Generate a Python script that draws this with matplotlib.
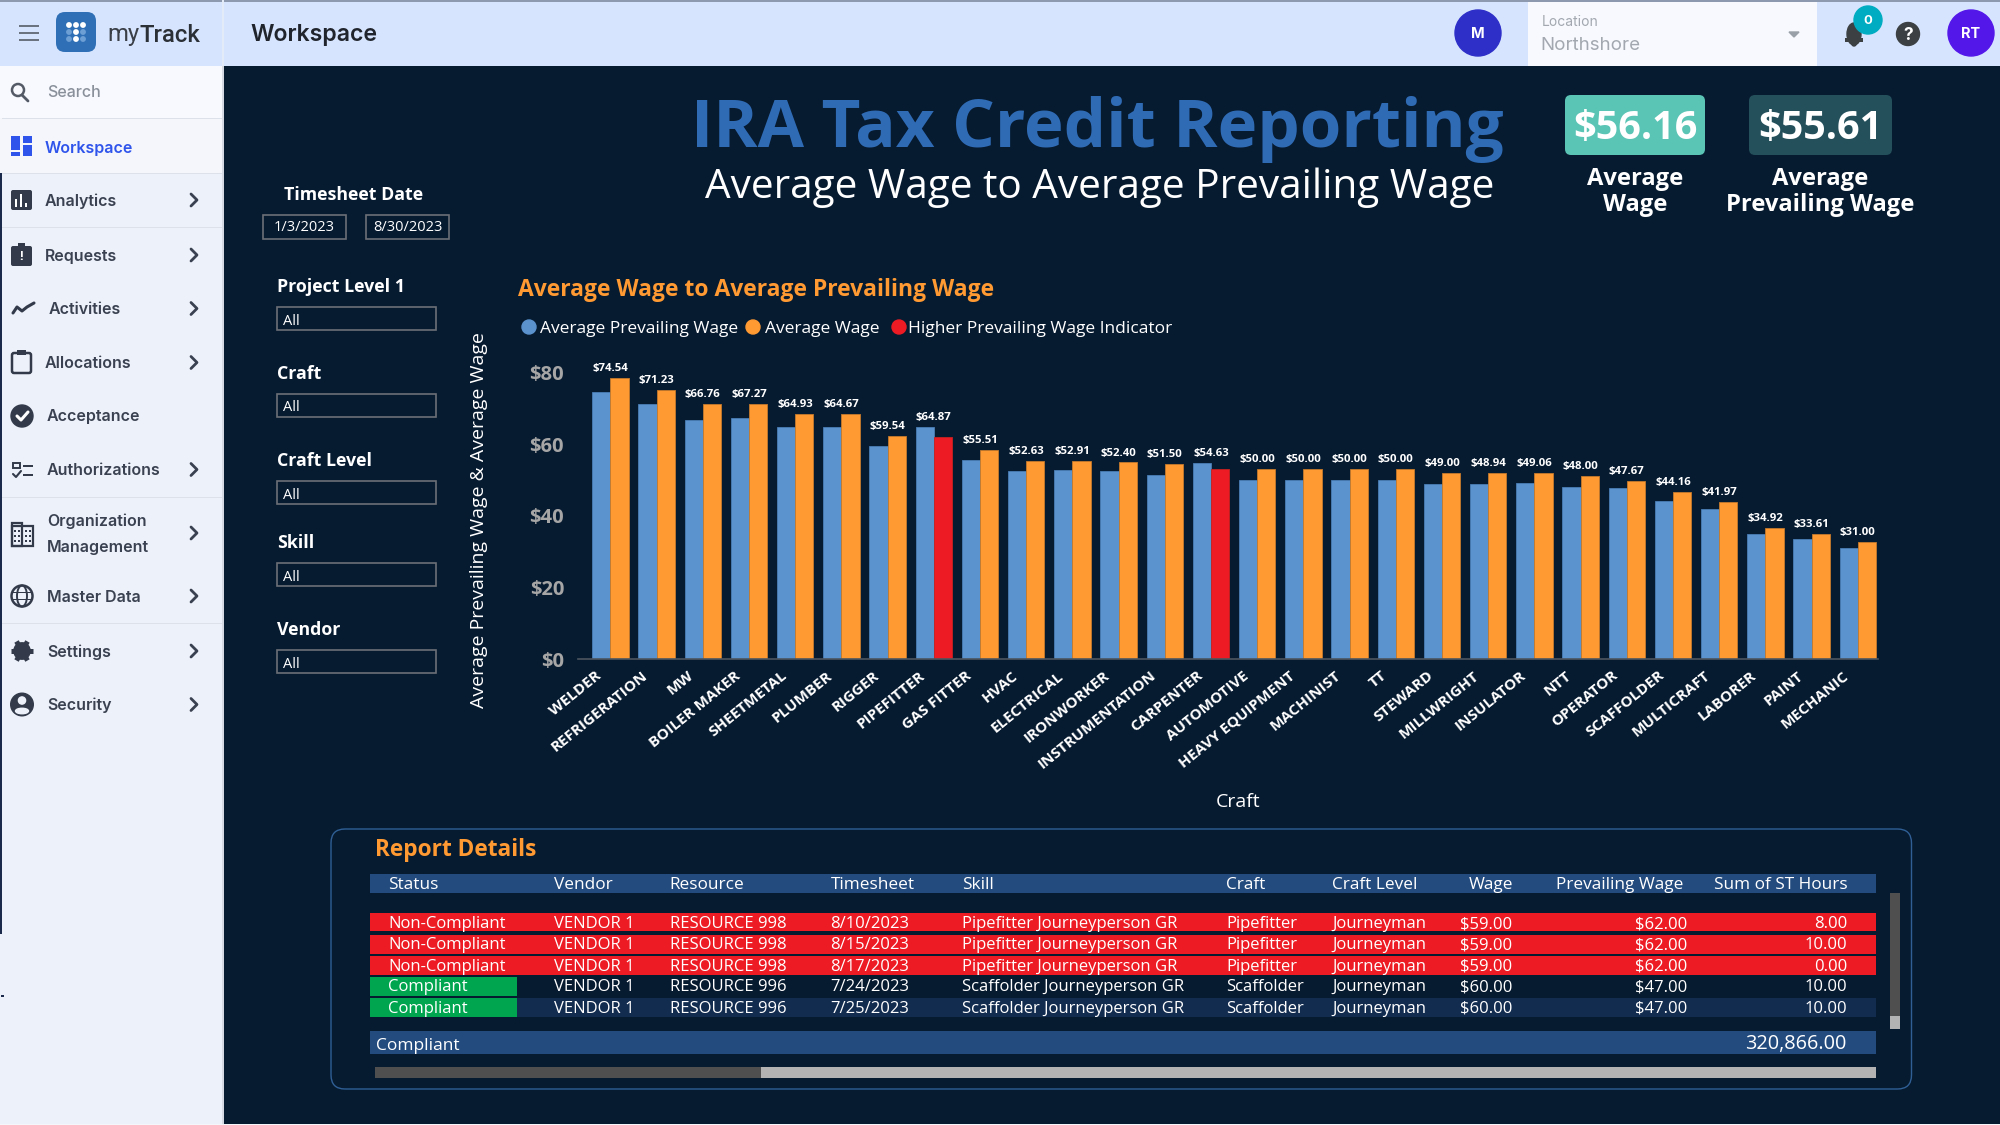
import math
import matplotlib
matplotlib.use("Agg")
import matplotlib.pyplot as plt
import matplotlib.transforms as mtrans
from matplotlib.patches import Rectangle, FancyBboxPatch, Circle, Ellipse, Polygon
from matplotlib.ticker import FuncFormatter

# ---------- data ----------
crafts = ["WELDER", "REFRIGERATION", "MW", "BOILER MAKER", "SHEETMETAL", "PLUMBER", "RIGGER",
          "PIPEFITTER", "GAS FITTER", "HVAC", "ELECTRICAL", "IRONWORKER", "INSTRUMENTATION",
          "CARPENTER", "AUTOMOTIVE", "HEAVY EQUIPMENT", "MACHINIST", "TT", "STEWARD", "MILLWRIGHT",
          "INSULATOR", "NTT", "OPERATOR", "SCAFFOLDER", "MULTICRAFT", "LABORER", "PAINT", "MECHANIC"]
avg_prevailing = [74.54, 71.23, 66.76, 67.27, 64.93, 64.67, 59.54, 64.87, 55.51, 52.63, 52.91, 52.40,
                  51.50, 54.63, 50.00, 50.00, 50.00, 50.00, 49.00, 48.94, 49.06, 48.00, 47.67, 44.16,
                  41.97, 34.92, 33.61, 31.00]
avg_wage = [78.5, 75.2, 71.2, 71.2, 68.4, 68.4, 62.4, 62.0, 58.4, 55.4, 55.4, 54.9,
            54.5, 53.0, 53.0, 53.0, 53.0, 53.0, 52.0, 52.0, 52.0, 51.0, 49.7, 46.7,
            43.9, 36.6, 35.0, 32.7]
y_ticks = [0, 20, 40, 60, 80]

table_header = ["Status", "Vendor", "Resource", "Timesheet", "Skill", "Craft", "Craft Level",
                "Wage", "Prevailing Wage", "Sum of ST Hours"]
table_status = ["Non-Compliant", "Non-Compliant", "Non-Compliant", "Compliant", "Compliant"]
table_vendor = ["VENDOR 1"] * 5
table_resource = ["RESOURCE 998", "RESOURCE 998", "RESOURCE 998", "RESOURCE 996", "RESOURCE 996"]
table_date = ["8/10/2023", "8/15/2023", "8/17/2023", "7/24/2023", "7/25/2023"]
table_skill = ["Pipefitter Journeyperson GR"] * 3 + ["Scaffolder Journeyperson GR"] * 2
table_craft = ["Pipefitter"] * 3 + ["Scaffolder"] * 2
table_level = ["Journeyman"] * 5
table_wage = ["$59.00", "$59.00", "$59.00", "$60.00", "$60.00"]
table_prev = ["$62.00", "$62.00", "$62.00", "$47.00", "$47.00"]
table_hours = ["8.00", "10.00", "0.00", "10.00", "10.00"]
table_total = "320,866.00"
kpi_wage = "$56.16"
kpi_prev = "$55.61"

sidebar_items = ["Analytics", "Requests", "Activities", "Allocations", "Acceptance", "Authorizations",
                 "Master Data", "Settings", "Security"]

# ---------- palette ----------
BG = "#061A30"
BLUE = "#5B93CF"
ORANGE = "#FF9A33"
RED = "#ED1C24"
SIDE = "#EDF1FA"
HEAD = "#D6E4FD"
DARKTXT = "#3A4150"
FONT = "Open Sans"
UI = "Inter"

plt.rcParams["font.family"] = [FONT, "DejaVu Sans"]
fig = plt.figure(figsize=(20, 11.25), dpi=100, facecolor="white")
ui = fig.add_axes([0, 0, 1, 1])
ui.set_xlim(0, 2000)
ui.set_ylim(1125, 0)
ui.axis("off")


def R(x0, y0, x1, y1, c, **k):
    ui.add_patch(Rectangle((x0, y0), x1 - x0, y1 - y0, facecolor=c, edgecolor=k.pop("ec", "none"),
                           linewidth=k.pop("lw", 0), **k))


def RR(x0, y0, x1, y1, c, r=6, ec="none", lw=0):
    ui.add_patch(FancyBboxPatch((x0 + r, y0 + r), x1 - x0 - 2 * r, y1 - y0 - 2 * r,
                                boxstyle=f"round,pad={r},rounding_size={r}",
                                facecolor=c, edgecolor=ec, linewidth=lw))


def T(x, y, s, size=12, color="white", weight="normal", ha="left", va="center", family=FONT, **k):
    if va == "center" and "rotation" not in k:
        y += 2.3 if family == FONT else 1.0
    return ui.text(x, y, s, fontsize=size, color=color, fontweight=weight, ha=ha, va=va,
                   family=[family, "DejaVu Sans"], **k)


def L(xs, ys, c, lw=1.5, **k):
    ui.plot(xs, ys, color=c, lw=lw, solid_capstyle="round", **k)


# ---------- page regions ----------
R(0, 0, 2000, 1125, BG)
R(0, 66, 222, 1125, SIDE)
R(222, 66, 224, 1125, "#D5DAE3")
R(0, 66, 2, 934, "#1B2A4A")
R(0, 934, 2, 1125, SIDE)
R(1, 995, 4, 997, "#1B2A4A")
R(0, 1123.5, 2000, 1125, "#F4F6FA")
R(0, 0, 2000, 66, HEAD)
R(0, 0, 2000, 2, "#8D99AE")
R(222, 0, 224, 66, "#E4EBF8")
R(0, 66, 222, 118, "#F7F9FE")
R(0, 118, 222, 173, "#F4F6FC")
for yy in (118, 173, 227, 497, 623):
    R(2, yy - 0.5, 222, yy + 0.7, "#DDE1EA")

# header left
for yy in (26, 33, 40):
    R(19, yy - 1, 39, yy + 1, "#6B7280")
RR(56, 12, 96, 52, "#2F6FB5", r=9)
for i, yy in enumerate((25, 32, 39)):
    for j, xx in enumerate((69, 76, 83)):
        bright = j == 1 or i == 0
        ui.add_patch(Circle((xx, yy), 2.2, color="white" if bright else "#6E9FD4"))
T(107, 34, "my", 17.2, "#3A3F47", "normal", family="Roboto")
T(140, 34, "Track", 17.2, "#2B2F36", "medium", family="Roboto")
T(250, 34, "Workspace", 16.6, "#20242C", "semibold", family=UI)

# header right
ui.add_patch(Circle((1478, 33), 23, color="#2E2FC9"))
T(1478, 33, "M", 10.5, "white", "bold", ha="center", family=UI)
R(1528, 2, 1817, 66, "#F7F9FE")
T(1542, 21, "Location", 10, "#A3A8B0", family=UI)
T(1540, 44, "Northshore", 13.5, "#A3A8B0", family=UI)
ui.add_patch(Polygon([[1789, 32], [1799, 32], [1794, 37]], color="#9AA0A8"))
ui.add_patch(Ellipse((1854, 34), 14, 22, color="#3C4043"))
R(1845, 38, 1863, 42, "#3C4043")
ui.add_patch(Circle((1854, 44), 2, color="#3C4043"))
ui.add_patch(Circle((1868, 20), 14, color="#00ACC1"))
T(1868, 20, "0", 9.5, "white", "bold", ha="center", family=UI)
ui.add_patch(Circle((1908, 34), 11.5, color="#3C4043"))
T(1908, 34, "?", 12.5, "white", "bold", ha="center", family=UI)
ui.add_patch(Circle((1971, 33), 23, color="#5317EA"))
T(1971, 33, "RT", 10.5, "white", "bold", ha="center", family=UI)

# sidebar texts
T(47, 91.5, "Search", 11.5, "#8A909A", "medium", family=UI)
T(45, 147, "Workspace", 11.5, "#2F54EB", "semibold", family=UI)
side_pos = {"Analytics": (45, 200), "Requests": (45, 255), "Activities": (49, 308.5),
            "Allocations": (45, 362.5), "Acceptance": (47, 416), "Authorizations": (47, 469.5),
            "Master Data": (47, 596), "Settings": (47, 651), "Security": (47, 704.5)}
for name in sidebar_items:
    x, y = side_pos[name]
    T(x, y, name, 11.5, DARKTXT, "semibold", family=UI)
    if name != "Acceptance":
        L([191, 197, 191], [y - 6, y, y + 6], "#3A4150", 2)
T(47, 520, "Organization", 11.5, DARKTXT, "semibold", family=UI)
T(47, 546.5, "Management", 11.5, DARKTXT, "semibold", family=UI)
L([191, 197, 191], [527, 533, 539], "#3A4150", 2)

# sidebar icons
IC = "#333B4A"
ui.add_patch(Circle((18, 90), 6, fill=False, ec="#555B66", lw=1.8))
L([22, 28], [95, 101], "#555B66", 2)
R(11, 136, 20, 150, "#2F54EB"); R(23, 136, 32, 143, "#2F54EB")
R(11, 152, 20, 156, "#2F54EB"); R(23, 145, 32, 156, "#2F54EB")
RR(11, 190, 32, 210, IC, r=2)
for xx, top in ((16, 199), (21, 194), (26, 203)):
    R(xx - 1, top, xx + 1, 207, "white")
RR(11, 246, 32, 266, IC, r=2)
R(18, 243, 25, 247, IC)
T(21.5, 254, "!", 9, "white", "bold", ha="center")
L([13, 17, 22, 27, 34], [313, 307, 311, 307, 303], IC, 2.2)
RR(12, 353, 31, 373, "none", r=2, ec=IC, lw=1.8)
R(17, 350, 26, 355, IC)
ui.add_patch(Circle((22, 416), 11, color=IC))
L([17, 21, 28], [416, 420, 412], "white", 2.2)
R(13, 463, 20, 468, "none", ec=IC, lw=1.4)
R(23, 465, 33, 466.5, IC); R(23, 474, 33, 475.5, IC)
L([13, 16, 21], [474, 477, 471], IC, 1.5)
R(12, 526, 33, 546, "none", ec=IC, lw=1.6)
R(12, 523, 22, 546, "none", ec=IC, lw=1.6)
for xx in (15, 19, 26, 30):
    for yy in (531, 536, 541):
        R(xx - 1, yy - 1, xx + 1, yy + 1, IC)
ui.add_patch(Circle((22, 596), 10.5, fill=False, ec=IC, lw=1.8))
ui.add_patch(Ellipse((22, 596), 10, 21, fill=False, ec=IC, lw=1.4))
R(12, 592, 32, 593.2, IC); R(12, 599, 32, 600.2, IC)
for ang in (0, 60, 120):
    dx, dy = 11 * math.cos(math.radians(ang)), 11 * math.sin(math.radians(ang))
    ui.plot([22 - dx, 22 + dx], [651 - dy, 651 + dy], color=IC, lw=3.6, solid_capstyle="butt")
ui.add_patch(Circle((22, 651), 8.2, color=IC))
ui.add_patch(Circle((22, 651), 3.6, color=SIDE))
ui.add_patch(Circle((22, 704.5), 11.3, color=IC))
ui.add_patch(Circle((22, 700.5), 3.6, color=SIDE))
ui.add_patch(Ellipse((22, 711), 13, 5.5, color=SIDE))

# ---------- title and KPIs ----------
T(691, 147, "IRA Tax Credit Reporting", 48.4, "#2F6BB5", "bold", va="baseline")
T(705, 198, "Average Wage to Average Prevailing Wage", 29.2, "white", "normal", va="baseline")
RR(1565, 95, 1705, 155, "#5AC4B5", r=6)
RR(1749, 95, 1892, 155, "#24505C", r=6)
T(1635, 126, kpi_wage, 28.5, "white", "bold", ha="center")
T(1820, 126, kpi_prev, 28.5, "white", "bold", ha="center")
T(1635, 177, "Average", 17.1, "white", "bold", ha="center")
T(1635, 203, "Wage", 17.1, "white", "bold", ha="center")
T(1820, 177, "Average", 17.1, "white", "bold", ha="center")
T(1820, 203, "Prevailing Wage", 17.1, "white", "bold", ha="center")

# ---------- slicers ----------
T(354, 193, "Timesheet Date", 12.8, "white", "bold", ha="center")
for x0, x1, s in ((263, 346, "1/3/2023"), (366, 449, "8/30/2023")):
    R(x0, 215, x1, 238.5, "none", ec="#6B7076", lw=1.2)
    T((x0 + x1) / 2, 225.5, s, 10.5, "white", ha="center")
for title, ty, by in (("Project Level 1", 285, 307), ("Craft", 372, 393.5), ("Craft Level", 459, 481),
                      ("Skill", 541, 563), ("Vendor", 628, 650)):
    T(277, ty, title, 12.8, "white", "bold")
    R(276.5, by, 436, by + 23, "none", ec="#6B7076", lw=1.2)
    T(283, by + 12, "All", 10.5, "white")

# ---------- chart ----------
T(518, 288, "Average Wage to Average Prevailing Wage", 16.5, ORANGE, "bold")
for cx, tx, col, s in ((529, 540, BLUE, "Average Prevailing Wage"), (753, 765, ORANGE, "Average Wage"),
                       (899, 908, RED, "Higher Prevailing Wage Indicator")):
    ui.add_patch(Circle((cx, 327), 7, color=col))
    T(tx, 326.5, s, 12.5, "white")
T(479, 520, "Average Prevailing Wage & Average Wage", 14, "white", "normal", ha="center", rotation=90)
T(1238, 800, "Craft", 14, "white", ha="center")

px_left, px_right, px_top, px_bot = 578, 1878, 358.3, 659
group0, pitch = 610.4, 46.2
ax = fig.add_axes([px_left / 2000, 1 - px_bot / 1125, (px_right - px_left) / 2000, (px_bot - px_top) / 1125])
ax.patch.set_alpha(0)
ax.set_xlim((px_left - group0) / pitch, (px_right - group0) / pitch)
ax.set_ylim(0, 84)
w = 0.394
xs = list(range(len(crafts)))
wage_cols = [RED if p > a else ORANGE for p, a in zip(avg_prevailing, avg_wage)]
ax.bar([x - w / 2 for x in xs], avg_prevailing, w, color=BLUE, edgecolor="#4A7DB5", linewidth=0.6)
ax.bar([x + w / 2 for x in xs], avg_wage, w, color=wage_cols,
       edgecolor=["#C9211F" if c == RED else "#C77A2A" for c in wage_cols], linewidth=0.6)
for x, p, a in zip(xs, avg_prevailing, avg_wage):
    ax.annotate(f"${p:.2f}", (x, max(p, a)), xytext=(0, 6.8), textcoords="offset points",
                ha="center", va="center", fontsize=8.2, color="white", fontweight="bold")
for s in ("top", "right", "left"):
    ax.spines[s].set_visible(False)
ax.spines["bottom"].set_color("#4C5560")
ax.spines["bottom"].set_linewidth(1.2)
ax.set_yticks(y_ticks)
ax.yaxis.set_major_formatter(FuncFormatter(lambda v, _: f"${v:.0f}"))
ax.tick_params(axis="y", length=0, pad=10, labelcolor="#A6A6A6", labelsize=14.5)
for lab in ax.get_yticklabels():
    lab.set_fontweight("bold")
ax.set_xticks(xs)
ax.set_xticklabels(crafts, rotation=39, ha="right", va="top", rotation_mode="anchor",
                   fontsize=11, color="white", fontweight="bold")
ax.tick_params(axis="x", length=0, pad=9)
shift = mtrans.ScaledTranslation(-15 / 100, 3 / 100, fig.dpi_scale_trans)
for lab in ax.get_xticklabels():
    lab.set_transform(lab.get_transform() + shift)

# ---------- report table ----------
RR(331, 829, 1911.5, 1089, "#071B30", r=14, ec="#2F5F95", lw=1.0)
T(375, 848, "Report Details", 16.3, ORANGE, "bold")
R(370, 874, 1876, 893, "#234B7E")
rows_y = [(912.5, 931), (935, 953.5), (956, 975), (977, 995.6), (998, 1017)]
left_cols = [388, 554, 669.6, 830.6, 962, 1226, 1332]
for x, s in zip(left_cols, table_header[:7]):
    T(x, 883, s, 12.4, "white")
T(1513, 883, table_header[7], 12.4, "white", ha="right")
T(1683, 883, table_header[8], 12.4, "white", ha="right")
T(1848, 883, table_header[9], 12.4, "white", ha="right")
for i, (y0, y1) in enumerate(rows_y):
    yc = (y0 + y1) / 2 - (1.2 if i else 0)
    comp = table_status[i] == "Compliant"
    if not comp:
        R(370, y0, 1876, y1, RED)
    else:
        if i == 4:
            R(370, y0, 1876, y1, "#122C50")
        R(370, y0, 516.5, y1, "#00A64F")
    vals = (table_status[i], table_vendor[i], table_resource[i], table_date[i], table_skill[i],
            table_craft[i], table_level[i])
    for x, s in zip(left_cols, vals):
        T(x, yc, s, 12, "white")
    T(1512, yc, table_wage[i], 12, "white", ha="right")
    T(1687, yc, table_prev[i], 12, "white", ha="right")
    T(1847, yc, table_hours[i], 12, "white", ha="right")
R(370, 1031, 1876, 1054, "#234B7E")
T(376, 1044, "Compliant", 12.5, "white")
T(1846.5, 1041.5, table_total, 14.3, "white", ha="right")
R(375, 1067, 761, 1078, "#4F4F4F")
R(761, 1067, 1876, 1078, "#B3B3B3")
R(1890, 893, 1900, 1016, "#4F4F4F")
R(1890, 1016, 1900, 1028.5, "#B3B3B3")

fig.savefig("out.png", dpi=100, facecolor="white")
